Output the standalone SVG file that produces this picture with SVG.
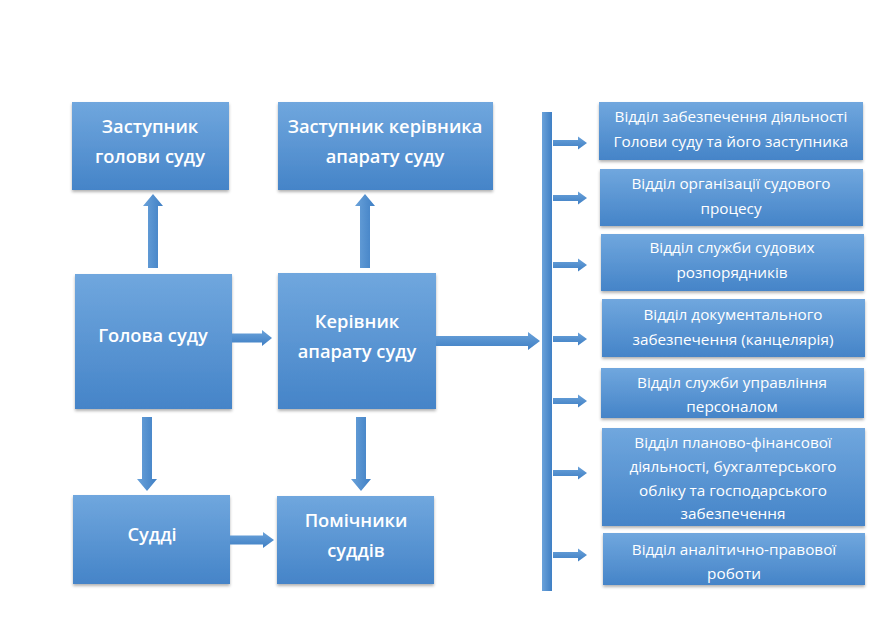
<svg xmlns="http://www.w3.org/2000/svg" width="882" height="640" viewBox="0 0 882 640">
<defs>
<linearGradient id="boxg" x1="0" y1="0" x2="0" y2="1">
<stop offset="0" stop-color="#70a7de"/>
<stop offset="1" stop-color="#4584c8"/>
</linearGradient>
<linearGradient id="arrh" x1="0" y1="0" x2="0" y2="1">
<stop offset="0" stop-color="#6aa2da"/>
<stop offset="1" stop-color="#3f7fc4"/>
</linearGradient>
<linearGradient id="arrv" x1="0" y1="0" x2="1" y2="0">
<stop offset="0" stop-color="#6aa2da"/>
<stop offset="1" stop-color="#3f7fc4"/>
</linearGradient>
<filter id="sh" x="-10%" y="-10%" width="120%" height="130%">
<feDropShadow dx="0" dy="2" stdDeviation="1.5" flood-color="#000" flood-opacity="0.3"/>
</filter>
</defs>
<style>
.box{fill:url(#boxg);filter:url(#sh)}
.t{font-family:"Open Sans","Noto Sans",sans-serif;fill:#fff;text-anchor:middle;dominant-baseline:central}
.big{font-size:18.3px;font-weight:600}
.sm{font-size:15.3px;font-weight:400}
.ah{fill:url(#arrh)}
.av{fill:url(#arrv)}
</style>
<rect width="882" height="640" fill="#fff"/>

<g id="zast_golovy">
<rect class="box" x="72" y="102" width="157" height="88"/>
<text class="t big" x="150" y="125">Заступник</text>
<text class="t big" x="150" y="155">голови суду</text>
</g>
<g id="zast_kerivnyka">
<rect class="box" x="278" y="102" width="215" height="88"/>
<text class="t big" x="385" y="125">Заступник керівника</text>
<text class="t big" x="385" y="155">апарату суду</text>
</g>
<g id="golova">
<rect class="box" x="75" y="274" width="157" height="135"/>
<text class="t big" x="153" y="334">Голова суду</text>
</g>
<g id="kerivnyk">
<rect class="box" x="278" y="273" width="158" height="136"/>
<text class="t big" x="357" y="320">Керівник</text>
<text class="t big" x="357" y="350">апарату суду</text>
</g>
<g id="suddi">
<rect class="box" x="73" y="495" width="157" height="89"/>
<text class="t big" x="152" y="533">Судді</text>
</g>
<g id="pomichnyky">
<rect class="box" x="277" y="496" width="157" height="88"/>
<text class="t big" x="356" y="519">Помічники</text>
<text class="t big" x="356" y="549">суддів</text>
</g>

<g id="vid1">
<rect class="box" x="599" y="102" width="264" height="58"/>
<text class="t sm" x="731" y="116">Відділ забезпечення діяльності</text>
<text class="t sm" x="731" y="141">Голови суду та його заступника</text>
</g>
<g id="vid2">
<rect class="box" x="600" y="169" width="263" height="57"/>
<text class="t sm" x="731" y="183">Відділ організації судового</text>
<text class="t sm" x="731" y="208">процесу</text>
</g>
<g id="vid3">
<rect class="box" x="601" y="234" width="263" height="57"/>
<text class="t sm" x="732" y="247">Відділ служби судових</text>
<text class="t sm" x="732" y="272">розпорядників</text>
</g>
<g id="vid4">
<rect class="box" x="602" y="299" width="263" height="58"/>
<text class="t sm" x="733" y="314">Відділ документального</text>
<text class="t sm" x="733" y="339">забезпечення (канцелярія)</text>
</g>
<g id="vid5">
<rect class="box" x="601" y="368" width="263" height="50"/>
<text class="t sm" x="732" y="382">Відділ служби управління</text>
<text class="t sm" x="732" y="406">персоналом</text>
</g>
<g id="vid6">
<rect class="box" x="602" y="428" width="263" height="98"/>
<text class="t sm" x="733" y="442">Відділ планово-фінансової</text>
<text class="t sm" x="733" y="466">діяльності, бухгалтерського</text>
<text class="t sm" x="733" y="490">обліку та господарського</text>
<text class="t sm" x="733" y="513">забезпечення</text>
</g>
<g id="vid7">
<rect class="box" x="603" y="533" width="262" height="52"/>
<text class="t sm" x="734" y="549">Відділ аналітично-правової</text>
<text class="t sm" x="734" y="573">роботи</text>
</g>

<g id="connectors">
<rect class="av" x="542" y="112" width="10" height="479"/>
<path class="av" d="M148,268 V206 H143 L153,194 L163,206 H158 V268 Z"/>
<path class="av" d="M360,268 V206 H355 L365,194 L375,206 H370 V268 Z"/>
<path class="av" d="M142,417 V479 H137 L147,491 L157,479 H152 V417 Z"/>
<path class="av" d="M356,417 V479 H351 L361,491 L371,479 H366 V417 Z"/>
<path class="ah" d="M232,333.5 H262 V330 L272,338 L262,346 V342.5 H232 Z"/>
<path class="ah" d="M436,336 H528 V332 L540,341 L528,350 V346 H436 Z"/>
<path class="ah" d="M230,535.5 H263 V532 L274,540 L263,548 V544.5 H230 Z"/>
<path class="ah" d="M553,140 H578 V136.5 L587,143 L578,149.5 V146 H553 Z"/>
<path class="ah" d="M553,195 H578 V191.5 L587,198 L578,204.5 V201 H553 Z"/>
<path class="ah" d="M553,262 H578 V258.5 L587,265 L578,271.5 V268 H553 Z"/>
<path class="ah" d="M553,336 H578 V332.5 L587,339 L578,345.5 V342 H553 Z"/>
<path class="ah" d="M553,398 H578 V394.5 L587,401 L578,407.5 V404 H553 Z"/>
<path class="ah" d="M553,470 H578 V466.5 L587,473 L578,479.5 V476 H553 Z"/>
<path class="ah" d="M553,552 H578 V548.5 L587,555 L578,561.5 V558 H553 Z"/>
</g>
</svg>
